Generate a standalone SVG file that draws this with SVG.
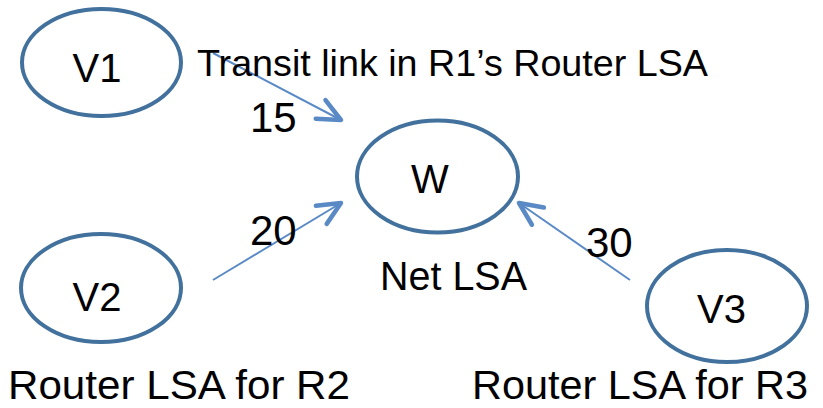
<svg xmlns="http://www.w3.org/2000/svg" width="823" height="408" viewBox="0 0 823 408">
  <style>
    .node { fill: #ffffff; stroke: #41719c; stroke-width: 4; }
    .lbl { font-family: "Liberation Sans", Arial, sans-serif; fill: #000000; }
    .nodetxt { font-size: 40px; text-anchor: middle; }
    .big { font-size: 42px; }
    .foot { font-size: 41px; }
    .edge { stroke: #5a8ac6; stroke-width: 2; fill: none; marker-end: url(#head); }
  </style>
  <defs>
    <marker id="head" markerUnits="userSpaceOnUse" markerWidth="40" markerHeight="40" refX="0" refY="0" viewBox="-30 -20 40 40" orient="auto" overflow="visible">
      <path d="M -23 -10.5 L 0 0 L -23 10.5" fill="none" stroke="#5a8ac6" stroke-width="4.5" stroke-linecap="round" stroke-linejoin="round"/>
    </marker>
  </defs>
  <rect width="823" height="408" fill="#ffffff"/>

  <g id="V1">
    <ellipse class="node" cx="101.5" cy="62.5" rx="79.5" ry="53.5"/>
    <text class="lbl nodetxt" x="97" y="82">V1</text>
  </g>
  <g id="V2">
    <ellipse class="node" cx="101" cy="288" rx="80" ry="54"/>
    <text class="lbl nodetxt" x="97" y="311">V2</text>
  </g>
  <g id="W">
    <ellipse class="node" cx="437.5" cy="176.5" rx="80.5" ry="56"/>
    <text class="lbl nodetxt" x="430" y="193">W</text>
  </g>
  <g id="V3">
    <ellipse class="node" cx="727" cy="306" rx="80" ry="56"/>
    <text class="lbl nodetxt" x="721.5" y="323">V3</text>
  </g>

  <g id="connectors">
    <line class="edge" x1="213" y1="53" x2="341" y2="120"/>
    <line class="edge" x1="213" y1="280" x2="341" y2="203"/>
    <line class="edge" x1="630" y1="280" x2="519" y2="203"/>
  </g>

  <g id="labels">
    <text class="lbl" x="197" y="76" font-size="36" textLength="511" lengthAdjust="spacingAndGlyphs">Transit link in R1’s Router LSA</text>
    <text class="lbl big" x="250" y="132">15</text>
    <text class="lbl big" x="250" y="245">20</text>
    <text class="lbl big" x="586" y="257">30</text>
    <text class="lbl" x="380" y="290" font-size="40" textLength="147" lengthAdjust="spacingAndGlyphs">Net LSA</text>
    <text class="lbl foot" x="8" y="399" textLength="342" lengthAdjust="spacingAndGlyphs">Router LSA for R2</text>
    <text class="lbl foot" x="472" y="399" textLength="336" lengthAdjust="spacingAndGlyphs">Router LSA for R3</text>
  </g>
</svg>
